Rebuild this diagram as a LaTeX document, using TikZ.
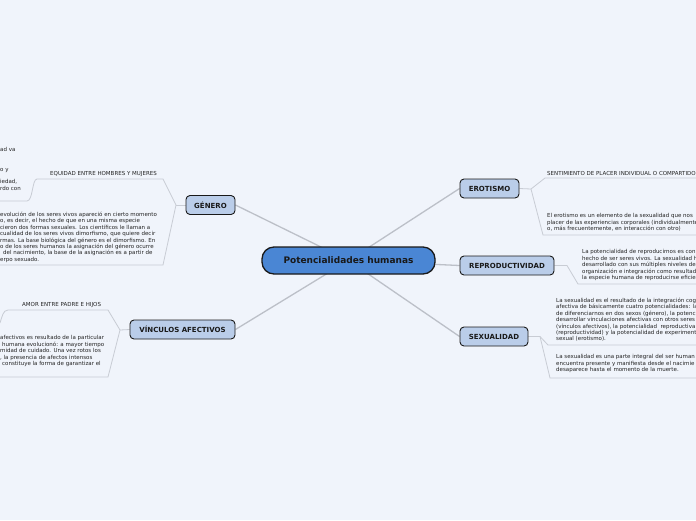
\documentclass[tikz,border=0pt]{standalone}
\usepackage{fontspec}
\setmainfont{DejaVu Sans}
\pgfdeclarelayer{bglayer}
\pgfdeclarelayer{edgelayer}
\pgfsetlayers{bglayer,edgelayer,main}
\definecolor{bgc}{RGB}{240,244,251}
\definecolor{centralc}{RGB}{74,134,212}
\definecolor{topicc}{RGB}{186,205,233}
\definecolor{edgec}{RGB}{188,192,200}
\definecolor{subedgec}{RGB}{200,204,212}
\definecolor{txtc}{RGB}{35,35,35}
\tikzset{
  central/.style={draw=black!90, line width=1.3pt, fill=centralc, rounded corners=12pt,
    minimum width=173pt, minimum height=27pt, inner sep=0pt,
    font=\fontsize{9}{10}\selectfont\bfseries, text=black!90},
  topic/.style={draw=black!90, line width=0.9pt, fill=topicc, rounded corners=4pt,
    minimum height=19pt, inner sep=0pt, font=\fontsize{7}{8}\selectfont\bfseries, text=black!90},
  subtext/.style={inner sep=0pt, font=\fontsize{5.5}{6.4}\selectfont, align=left,
    anchor=north west, text=txtc},
  sublabel/.style={inner sep=0pt, font=\fontsize{5.5}{6.4}\selectfont, anchor=base west, text=txtc},
  mainedge/.style={draw=edgec, line width=1.3pt},
  subedge/.style={draw=subedgec, line width=0.8pt},
}
\begin{document}
\begin{tikzpicture}[x=1pt,y=-1pt]
\useasboundingbox (0,0) rectangle (696,520);
\begin{pgfonlayer}{bglayer}
\fill[bgc] (0,0) rectangle (696,520);
\end{pgfonlayer}
\clip (0,0) rectangle (696,520);

% central and main topics
\node[central] (c) at (348.5,260.5) {Potencialidades humanas};
\node[topic, minimum width=49pt] (gen) at (210.5,205) {GÉNERO};
\node[topic, minimum width=105pt] (vin) at (182.5,329.5) {VÍNCULOS AFECTIVOS};
\node[topic, minimum width=59pt] (ero) at (489.5,188.5) {EROTISMO};
\node[topic, minimum width=94pt] (rep) at (507,265.5) {REPRODUCTIVIDAD};
\node[topic, minimum width=68pt] (sex) at (494,336.5) {SEXUALIDAD};

% GÉNERO subtopics
\node[sublabel] (g1) at (50,175.5) {EQUIDAD ENTRE HOMBRES Y MUJERES};
\node[subtext] (g1a) at (0,147.3) {\strut ad va\\ \strut\\ \strut\\ \strut o y\\ \strut\\ \strut iedad,\\ \strut rdo con};
\node[subtext] (g2) at (0,211.8) {\strut evolución de los seres vivos apareció en cierto momento\\
\strut o, es decir, el hecho de que en una misma especie\\
\strut cieron dos formas sexuales. Los científicos le llaman a\\
\strut cualidad de los seres vivos dimorfismo, que quiere decir\\
\strut rmas. La base biológica del género es el dimorfismo. En\\
\strut o de los seres humanos la asignación del género ocurre\\
\strut\hspace*{3pt}del nacimiento, la base de la asignación es a partir de\\
\strut erpo sexuado.};

% VÍNCULOS subtopics
\node[sublabel] (v1) at (22,306) {AMOR ENTRE PADRE E HIJOS};
\node[subtext] (v2) at (0,335.3) {\strut afectivos es resultado de la particular\\
\strut\hspace*{2pt}humana evolucionó: a mayor tiempo\\
\strut midad de cuidado. Una vez rotos los\\
\strut , la presencia de afectos intensos\\
\strut\hspace*{2pt}constituye la forma de garantizar el};

% EROTISMO subtopics
\node[sublabel] (e1) at (547,175) {SENTIMIENTO DE PLACER INDIVIDUAL O COMPARTIDO};
\node[subtext] (e2) at (547,213.0) {\strut El erotismo es un elemento de la sexualidad que nos\\
\strut placer de las experiencias corporales (individualmente\\
\strut o, más frecuentemente, en interacción con otro)};

% REPRODUCTIVIDAD subtopic
\node[subtext] (r1) at (582,249.3) {\strut La potencialidad de reproducirnos es con\\
\strut hecho de ser seres vivos. La sexualidad h\\
\strut desarrollado con sus múltiples niveles de\\
\strut organización e integración como resultad\\
\strut la especie humana de reproducirse eficie};

% SEXUALIDAD subtopics
\node[subtext] (s1) at (556,297.8) {\strut La sexualidad es el resultado de la integración cog\\
\strut afectiva de básicamente cuatro potencialidades: la\\
\strut de diferenciarnos en dos sexos (género), la potenc\\
\strut desarrollar vinculaciones afectivas con otros seres\\
\strut (vínculos afectivos), la potencialidad\ \ reproductiva\\
\strut (reproductividad) y la potencialidad de experiment\\
\strut sexual (erotismo).};
\node[subtext] (s2) at (556,354.3) {\strut La sexualidad es una parte integral del ser human\\
\strut encuentra presente y manifiesta desde el nacimie\\
\strut desaparece hasta el momento de la muerte.};

% connector coordinates
\coordinate (gs) at (176,205);
\coordinate (g1r) at (163,179);
\coordinate (g1l) at (37,179);
\coordinate (g1ar) at (27,201);
\coordinate (g1al) at (0,201);
\coordinate (g2r) at (163,265);
\coordinate (g2l) at (0,265);
\coordinate (vs) at (120,330);
\coordinate (v1r) at (108,310);
\coordinate (v1l) at (8,310);
\coordinate (v1x) at (0,323);
\coordinate (v2r) at (108,377);
\coordinate (v2l) at (0,377);
\coordinate (es) at (531,189);
\coordinate (e1l) at (545,178);
\coordinate (e1r) at (696,178);
\coordinate (e2l) at (543,235);
\coordinate (e2r) at (696,235);
\coordinate (rs) at (567,265.5);
\coordinate (r1l) at (578,284);
\coordinate (r1r) at (696,284);
\coordinate (ss) at (540,336.5);
\coordinate (s1l) at (548,345);
\coordinate (s1r) at (696,345);
\coordinate (s2l) at (550,378);
\coordinate (s2r) at (696,378);

\begin{pgfonlayer}{edgelayer}
\draw[mainedge] (gen.east) -- (c.center);
\draw[mainedge] (vin.east) -- (c.center);
\draw[mainedge] (ero.west) -- (c.center);
\draw[mainedge] (rep.west) -- (c.center);
\draw[mainedge] (sex.west) -- (c.center);
% GÉNERO
\draw[subedge] (gen.west) -- (gs);
\draw[subedge] (gs) -- (g1r) -- (g1l) .. controls (32,179) and (33,201) .. (g1ar) -- (g1al);
\draw[subedge] (gs) -- (g2r) -- (g2l);
% VÍNCULOS
\draw[subedge] (vin.west) -- (vs);
\draw[subedge] (vs) -- (v1r) -- (v1l) .. controls (3,310) and (2,317) .. (v1x);
\draw[subedge] (vs) -- (v2r) -- (v2l);
% EROTISMO
\draw[subedge] (ero.east) -- (es);
\draw[subedge] (es) -- (e1l) -- (e1r);
\draw[subedge] (es) -- (e2l) -- (e2r);
% REPRODUCTIVIDAD
\draw[subedge] (rep.east) -- (rs) -- (r1l) -- (r1r);
% SEXUALIDAD
\draw[subedge] (sex.east) -- (ss);
\draw[subedge] (ss) -- (s1l) -- (s1r);
\draw[subedge] (ss) -- (s2l) -- (s2r);
\end{pgfonlayer}
\end{tikzpicture}
\end{document}
